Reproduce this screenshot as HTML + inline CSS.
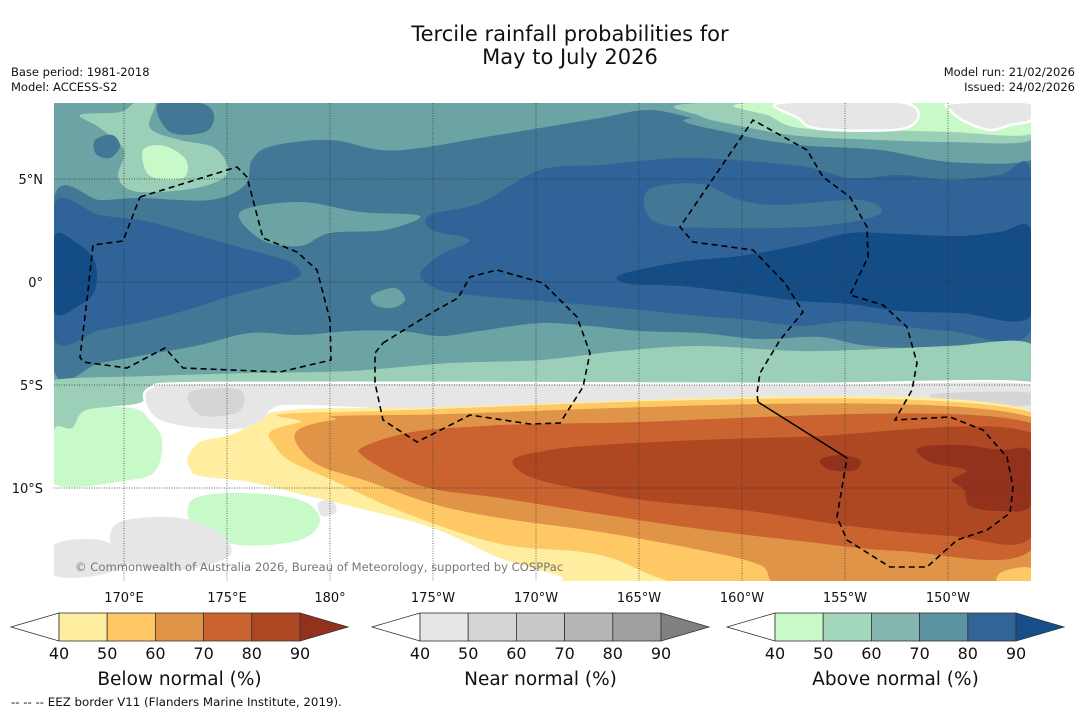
<!DOCTYPE html>
<html><head><meta charset="utf-8"><style>
html,body{margin:0;padding:0;background:#fff;}
svg{display:block;font-family:"DejaVu Sans","Liberation Sans",sans-serif;}
</style></head><body>
<svg id="fig" width="1085" height="713" viewBox="0 0 1085 713" xmlns="http://www.w3.org/2000/svg">
<rect width="1085" height="713" fill="#fff"/>
<text x="570" y="41" font-size="21" text-anchor="middle" fill="#111">Tercile rainfall probabilities for</text>
<text x="570" y="64" font-size="21" text-anchor="middle" fill="#111">May to July 2026</text>
<text x="11" y="76" font-size="11.5" fill="#111">Base period: 1981-2018</text>
<text x="11" y="91" font-size="11.5" fill="#111">Model: ACCESS-S2</text>
<text x="1075" y="76" font-size="11.5" fill="#111" text-anchor="end">Model run: 21/02/2026</text>
<text x="1075" y="91" font-size="11.5" fill="#111" text-anchor="end">Issued: 24/02/2026</text>
<defs><clipPath id="mc"><rect x="54" y="103" width="977" height="478"/></clipPath></defs>
<g id="map" clip-path="url(#mc)">
<rect x="54" y="103" width="977" height="478" fill="#fff"/>
<rect x="54" y="103" width="977" height="282" fill="#6ca3a4"/>
</g>
<g id="overlay"></g>
<g id="bars"></g>
<text x="11" y="706" font-size="11.8" fill="#111">--  --  -- EEZ border V11 (Flanders Marine Institute, 2019).</text>
</svg>
<script>
const NS="http://www.w3.org/2000/svg";
const map=document.getElementById('map');
const ov=document.getElementById('overlay');
const bars=document.getElementById('bars');

const lonLabels=["170°E","175°E","180°","175°W","170°W","165°W","160°W","155°W","150°W"];
const lonValues=[170,175,180,185,190,195,200,205,210];
const latLabels=["5°N","0°","5°S","10°S"];
const latValues=[5,0,-5,-10];
function xLon(l){return 124+(l-170)*20.6;}
function yLat(v){return 282-v*20.6;}

const belowColors=["#ffeda0","#fec965","#e09448","#cb6330","#ad4822","#93321c"];
const nearColors=["#e6e6e6","#d5d5d5","#c8c8c8","#b5b5b5","#a0a0a0","#808080"];
const aboveColors=["#c8f9c8","#a4d8bc","#84b5ae","#5c93a0","#326597","#154e88"];
const mapAbove=["#c8f9c8","#9ccfb8","#6ca3a4","#427896","#306397","#144c86"];
const barTicks=["40","50","60","70","80","90"];

function smooth(p){
  const n=p.length;let d="M"+p[0][0]+","+p[0][1];
  for(let i=0;i<n;i++){
    const p0=p[(i-1+n)%n],p1=p[i],p2=p[(i+1)%n],p3=p[(i+2)%n];
    const c1=[p1[0]+(p2[0]-p0[0])/6,p1[1]+(p2[1]-p0[1])/6];
    const c2=[p2[0]-(p3[0]-p1[0])/6,p2[1]-(p3[1]-p1[1])/6];
    d+="C"+c1[0].toFixed(1)+","+c1[1].toFixed(1)+" "+c2[0].toFixed(1)+","+c2[1].toFixed(1)+" "+p2[0]+","+p2[1];
  }
  return d+"Z";
}
function region(pts,fill,name,stroke){
  const e=document.createElementNS(NS,'path');
  e.setAttribute('d',smooth(pts));e.setAttribute('fill',fill);
  if(stroke){e.setAttribute('stroke',stroke);e.setAttribute('stroke-width','2.5');}
  
  
  map.appendChild(e);
}
region([[54,103],[300,103],[300,120],[80,118]],mapAbove[2],'teal-top');
region([[80,115],[120,112],[135,103],[155,103],[150,128],[180,140],[215,148],[228,172],[205,186],[160,192],[130,190],[118,176],[124,150],[100,128]],mapAbove[1],'mint-northwest');
region([[143,150],[165,146],[186,160],[183,178],[150,176]],mapAbove[0],'lightgreen-northwest');
region([[158,104],[200,103],[214,115],[205,132],[170,132]],mapAbove[3],'steel-blob-nw');
region([[95,140],[112,135],[120,146],[110,158],[96,154]],mapAbove[3],'steel-blob-nw2');
region([[54,197],[100,200],[140,198],[210,200],[245,185],[252,160],[272,146],[330,140],[380,150],[420,148],[480,138],[540,128],[600,118],[650,110],[700,120],[760,132],[850,145],[950,150],[1031,152],[1031,342],[950,348],[870,346],[820,337],[760,339],[700,333],[640,331],[590,326],[540,323],[480,331],[440,336],[400,331],[350,331],[300,335],[250,333],[200,345],[150,354],[100,363],[54,370]],mapAbove[3],'steel-band');
region([[240,212],[300,202],[360,212],[420,216],[385,230],[330,233],[300,246],[262,240]],mapAbove[2],'teal-patch-1');
region([[372,295],[395,288],[405,300],[392,308],[375,305]],mapAbove[2],'teal-patch-2');
region([[700,118],[1031,128],[1031,160],[950,162],[880,150],[800,145],[740,135]],mapAbove[2],'teal-top-right');
region([[54,205],[100,215],[150,222],[200,236],[250,250],[290,262],[300,276],[270,286],[230,296],[200,306],[150,320],[100,330],[54,338]],mapAbove[4],'blue-west');
region([[430,215],[480,203],[540,170],[600,165],[650,160],[700,158],[800,166],[850,178],[900,175],[950,180],[1000,175],[1031,172],[1031,330],[950,331],[900,326],[850,321],[800,326],[750,320],[700,316],[650,311],[600,306],[540,301],[480,296],[440,290],[420,275],[440,255],[470,240],[432,230]],mapAbove[4],'blue-east');
region([[648,190],[700,184],[740,200],[780,205],[860,200],[880,214],[820,226],[720,228],[655,222]],mapAbove[3],'steel-patch-east');
region([[54,237],[78,244],[95,262],[95,290],[80,305],[54,311]],mapAbove[5],'darkblue-west');
region([[620,275],[680,262],[740,256],[800,245],[850,233],[900,234],[960,236],[1000,232],[1031,230],[1031,316],[960,313],[900,311],[850,304],[800,301],[740,293],[680,286],[630,284]],mapAbove[5],'darkblue-east');
region([[54,380],[150,376],[250,373],[350,371],[450,363],[540,360],[620,351],[700,346],[800,351],[880,349],[950,346],[1031,344],[1031,395],[54,395]],mapAbove[1],'mint-south-strip');
region([[54,385],[140,385],[142,402],[95,410],[72,430],[54,432]],mapAbove[1],'mint-southwest');
region([[54,430],[72,428],[86,410],[132,408],[150,420],[162,440],[156,470],[130,480],[54,484]],mapAbove[0],'lightgreen-southwest');
region([[700,103],[1031,103],[1031,140],[950,142],[880,140],[800,136],[740,126],[700,116]],mapAbove[1],'mint-top-right');
region([[750,103],[1031,103],[1031,134],[950,132],[880,130],[800,128],[770,116]],mapAbove[0],'lightgreen-top-right');
region([[780,103],[905,103],[906,128],[820,129],[798,118]],nearColors[0],'gray-top-right-1','#fff');
region([[952,103],[1031,103],[1031,120],[1010,125],[990,130],[966,122],[952,112]],nearColors[0],'gray-top-right-2','#fff');
region([[150,388],[200,383],[500,383],[800,384],[1031,383],[1031,412],[900,411],[600,413],[420,411],[300,406],[272,410],[256,428],[200,429],[160,421],[146,405]],nearColors[0],'near-normal-band','#fff');
region([[190,392],[240,390],[238,412],[200,415]],nearColors[1],'gray-darker-1');
region([[930,395],[980,392],[1031,393],[1031,405],[960,406]],nearColors[1],'gray-darker-2');
region([[192,500],[240,493],[300,500],[320,520],[300,540],[240,545],[195,530]],mapAbove[0],'lightgreen-south-blob');
region([[115,525],[170,517],[215,530],[230,555],[180,570],[120,560]],nearColors[0],'gray-south-blob-1');
region([[54,545],[100,540],[130,560],[100,575],[54,575]],nearColors[0],'gray-south-blob-2');
region([[318,503],[332,500],[336,512],[322,516]],nearColors[0],'gray-south-blob-3');
region([[188,457],[200,442],[230,435],[262,420],[282,411],[400,408],[1031,410],[1031,590],[600,590],[560,576],[500,558],[433,528],[350,506],[300,494],[250,482],[200,476],[190,468]],belowColors[0],'below-40-50');
region([[270,432],[300,422],[340,412],[1031,412],[1031,590],[720,590],[600,555],[500,544],[400,511],[330,479],[290,461],[275,446]],belowColors[1],'below-50-60');
region([[298,430],[333,420],[400,415],[1031,417],[1031,590],[800,590],[760,565],[700,550],[600,532],[500,518],[433,504],[367,481],[320,466],[298,446]],belowColors[2],'below-60-70');
region([[363,447],[407,433],[467,427],[600,423],[1031,423],[1031,550],[900,551],[800,541],[700,529],[600,514],[500,498],[433,489],[393,474],[363,456]],belowColors[3],'below-70-80');
region([[513,460],[550,450],[600,445],[700,440],[800,437],[1031,433],[1031,537],[950,536],[850,526],[750,511],[650,501],[600,493],[533,478]],belowColors[4],'below-80-90');
region([[820,460],[840,455],[860,460],[855,470],[830,470]],belowColors[5],'below-90-patch-1');
region([[918,448],[960,445],[1000,450],[1031,452],[1031,505],[1000,511],[970,506],[964,490],[952,480],[966,470],[930,462]],belowColors[5],'below-90-patch-2');
region([[1000,573],[1031,568],[1031,590],[1000,590]],belowColors[1],'below-50-blob-se');

function line(x1,y1,x2,y2,parent,name){
  const l=document.createElementNS(NS,'line');
  l.setAttribute('x1',x1);l.setAttribute('y1',y1);l.setAttribute('x2',x2);l.setAttribute('y2',y2);
  l.setAttribute('stroke','#333');l.setAttribute('stroke-width','0.7');l.setAttribute('stroke-dasharray','1,1.5');
  
  
  parent.appendChild(l);
}
function txt(x,y,s,size,anchor,parent,name,fill){
  const t=document.createElementNS(NS,'text');
  t.setAttribute('x',x);t.setAttribute('y',y);t.setAttribute('font-size',size);
  t.setAttribute('text-anchor',anchor);t.setAttribute('fill',fill||'#111');t.textContent=s;
  
  
  parent.appendChild(t);return t;
}
lonValues.forEach((v,i)=>{
  line(xLon(v),103,xLon(v),581,ov,'lon-gridline');
  txt(xLon(v),602,lonLabels[i],13,'middle',ov,'lon-label');
});
latValues.forEach((v,i)=>{
  line(54,yLat(v),1031,yLat(v),ov,'lat-gridline');
  txt(43,yLat(v)+5,latLabels[i],13,'end',ov,'lat-label');
});

const eezPaths=[
 [[140,197],[237,167],[247,177],[263,238],[297,252],[317,270],[330,320],[331,360],[280,372],[183,368],[165,348],[127,368],[83,362],[80,357],[87,300],[93,245],[123,241],[140,197]],
 [[383,343],[433,312],[458,298],[470,277],[497,270],[543,283],[577,317],[590,353],[583,387],[560,423],[530,424],[470,415],[417,442],[383,420],[375,383],[375,353],[383,343]],
 [[758,402],[757,393],[760,373],[780,340],[803,312],[785,283],[753,250],[693,242],[680,227],[753,120],[807,150],[823,177],[850,197],[867,227],[868,257],[850,295],[883,305],[907,327],[917,363],[912,390],[895,420],[950,417],[983,430],[1007,457],[1013,487],[1010,513],[987,530],[957,540],[927,567],[890,567],[847,540],[837,517],[847,458]]
];
eezPaths.forEach(p=>{
  const e=document.createElementNS(NS,'polyline');
  e.setAttribute('points',p.map(q=>q.join(',')).join(' '));
  e.setAttribute('fill','none');e.setAttribute('stroke','#000');e.setAttribute('stroke-width','1.6');
  e.setAttribute('stroke-dasharray','6,4');
  
  
  ov.appendChild(e);
});
const solid=document.createElementNS(NS,'line');
solid.setAttribute('x1',758);solid.setAttribute('y1',402);solid.setAttribute('x2',847);solid.setAttribute('y2',458);
solid.setAttribute('stroke','#000');solid.setAttribute('stroke-width','1.5');


ov.appendChild(solid);

txt(75,571,"© Commonwealth of Australia 2026, Bureau of Meteorology, supported by COSPPac",11.6,'start',ov,'copyright-text','#777');

const barTitles=["Below normal (%)","Near normal (%)","Above normal (%)"];
const barStarts=[59,420,775];
const barSets=[belowColors,nearColors,aboveColors];
barSets.forEach((cols,b)=>{
  const x0=barStarts[b],w=48.2,y0=613,y1=641,ym=627;
  const g=document.createElementNS(NS,'g');
  
  
  bars.appendChild(g);
  const lt=document.createElementNS(NS,'polygon');
  lt.setAttribute('points',`${x0},${y0} ${x0-48},${ym} ${x0},${y1}`);
  lt.setAttribute('fill','#fff');lt.setAttribute('stroke','#333');lt.setAttribute('stroke-width','0.8');
  
  
  g.appendChild(lt);
  for(let i=0;i<5;i++){
    const r=document.createElementNS(NS,'rect');
    r.setAttribute('x',x0+i*w);r.setAttribute('y',y0);r.setAttribute('width',w);r.setAttribute('height',y1-y0);
    r.setAttribute('fill',cols[i]);r.setAttribute('stroke','#333');r.setAttribute('stroke-width','0.8');
    
    
    g.appendChild(r);
  }
  const rt=document.createElementNS(NS,'polygon');
  const xe=x0+5*w;
  rt.setAttribute('points',`${xe},${y0} ${xe+48},${ym} ${xe},${y1}`);
  rt.setAttribute('fill',cols[5]);rt.setAttribute('stroke','#333');rt.setAttribute('stroke-width','0.8');
  
  
  g.appendChild(rt);
  barTicks.forEach((t,i)=>txt(x0+i*w,659,t,16,'middle',g,'colorbar-tick'));
  txt(x0+2.5*w,685,barTitles[b],18.5,'middle',g,'colorbar-title');
});
</script>
</body></html>
